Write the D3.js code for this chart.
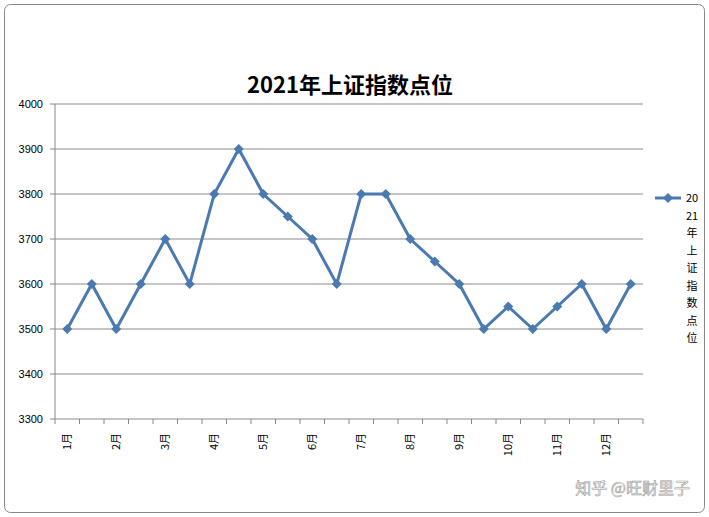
<!DOCTYPE html>
<html><head><meta charset="utf-8">
<script src="https://cdn.jsdelivr.net/npm/d3@7"></script>
<style>body{margin:0;background:#fff}svg{display:block;font-family:"Noto Sans CJK SC","DejaVu Sans",sans-serif}</style>
</head><body><svg id="c" width="709" height="517"></svg>
<script>
const categories = d3.range(24).map(i => "c" + i);
const monthLabels = ["1月","2月","3月","4月","5月","6月","7月","8月","9月","10月","11月","12月"];
const values = [3500,3600,3500,3600,3700,3600,3800,3900,3800,3750,3700,3600,3800,3800,3700,3650,3600,3500,3550,3500,3550,3600,3500,3600];
const yTicks = [3300,3400,3500,3600,3700,3800,3900,4000];
const seriesName = "2021年上证指数点位";
const legendChars = ["20","21","年","上","证","指","数","点","位"];

const svg = d3.select("#c");
const color = "#4a7ab0";
svg.append("rect").attr("x",4.5).attr("y",4.5).attr("width",700).attr("height",508).attr("rx",6)
  .attr("fill","#fff").attr("stroke","#888");
const L=55,R=643,T=104,B=419;
const x = d3.scaleBand().domain(categories).range([L,R]);
const y = d3.scaleLinear().domain([3300,4000]).range([B,T]);

svg.append("g").selectAll("line").data(yTicks).join("line")
  .attr("x1",L).attr("x2",R).attr("y1",d=>y(d)).attr("y2",d=>y(d))
  .attr("stroke","#8c8c8c").attr("stroke-width",1);
svg.append("line").attr("x1",L).attr("x2",L).attr("y1",T).attr("y2",B).attr("stroke","#888");
svg.append("g").selectAll("line").data(yTicks).join("line")
  .attr("x1",L-5).attr("x2",L).attr("y1",d=>y(d)).attr("y2",d=>y(d)).attr("stroke","#888");
svg.append("g").selectAll("text").data(yTicks).join("text")
  .attr("x",L-12).attr("y",d=>y(d)+4).attr("text-anchor","end").attr("font-size",11).attr("font-family","Liberation Sans, Arial").text(d=>d);
const bounds = categories.map(c=>x(c)).concat([R]);
svg.append("g").selectAll("line").data(bounds).join("line")
  .attr("x1",d=>d).attr("x2",d=>d).attr("y1",B).attr("y2",B+5).attr("stroke","#888");
svg.append("g").selectAll("text").data(monthLabels).join("text")
  .attr("transform",(d,i)=>{const cx=x(categories[i*2])+x.bandwidth()/2+4;return `translate(${cx},${B+14}) rotate(-90)`;})
  .attr("text-anchor","end").attr("font-size",11).text(d=>d);

const line = d3.line().x((d,i)=>x(categories[i])+x.bandwidth()/2).y(d=>y(d));
svg.append("path").datum(values).attr("d",line).attr("fill","none").attr("stroke",color).attr("stroke-width",3);
const diamond = "M0,-5L5,0L0,5L-5,0Z";
svg.append("g").selectAll("path").data(values).join("path")
  .attr("transform",(d,i)=>`translate(${x(categories[i])+x.bandwidth()/2},${y(d)})`)
  .attr("d",diamond).attr("fill",color);

svg.append("text").attr("x",350).attr("y",93).attr("text-anchor","middle").attr("font-size",22).attr("font-weight","bold").text(seriesName);

svg.append("line").attr("x1",655).attr("x2",681).attr("y1",198).attr("y2",198).attr("stroke",color).attr("stroke-width",3);
svg.append("path").attr("transform","translate(668,198)").attr("d",diamond).attr("fill",color);
svg.append("g").selectAll("text").data(legendChars).join("text")
  .attr("x",692).attr("y",(d,i)=>202+i*17.5).attr("text-anchor","middle").attr("font-size",11).text(d=>d);

svg.append("text").attr("x",690).attr("y",494).attr("text-anchor","end").attr("font-size",16)
  .attr("fill","#fff").attr("stroke","#999").attr("stroke-width",0.6).text("知乎 @旺财里子");
</script></body></html>
